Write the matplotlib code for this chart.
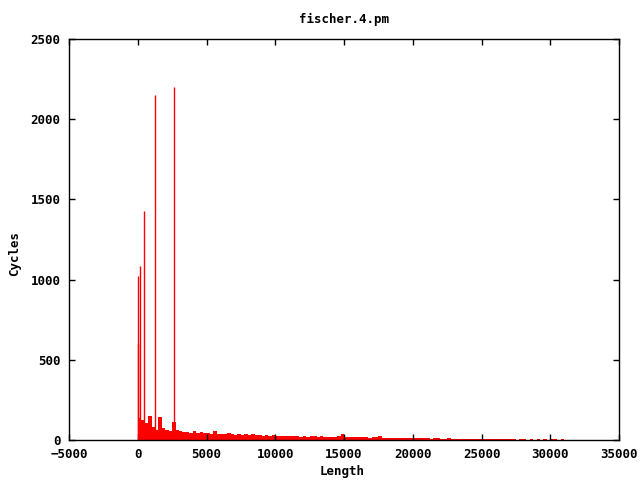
import matplotlib
matplotlib.use("Agg")
import matplotlib.pyplot as plt
import numpy as np

# tall isolated spikes (length, cycles)
spike_x = [0, 40, 180, 470, 1270, 2650]
spike_y = [1020, 600, 1085, 1430, 2150, 2200]

# dense background, one value per 250-wide length bin starting at 0
bin_step = 250
base_y = [
    140, 125, 105, 150, 80, 65, 145, 75, 60, 55, 110, 60,          # 0 - 2750
    55, 48, 52, 45, 58, 44, 50, 42, 46, 40, 57, 38,                # 3000 - 5750
    40, 35, 42, 36, 33, 38, 32, 35, 30, 36, 29, 32, 28, 33, 27, 30,  # 6000 - 9750
    26, 24, 28, 23, 25, 22, 26, 21, 24, 20, 23, 22,                # 10000 - 12750
    20, 22, 19, 21, 18, 20, 23, 36, 20, 18, 21, 17,                # 13000 - 15750
    19, 16, 18, 15, 20, 16, 22, 14, 15, 13, 14, 12, 13, 11, 12, 10,  # 16000 - 19750
    13, 11, 12, 10, 12, 9, 11, 10, 9, 8, 10, 8,                    # 20000 - 22750
    8, 7, 9, 7, 8, 6, 7, 6, 7, 6, 8, 6, 7, 5, 6, 4,                # 23000 - 26750
    4, 6, 0, 5, 4, 0, 5, 0, 4, 0, 5, 0, 8, 4, 0, 4,                # 27000 - 30750
]
base_x = np.arange(len(base_y)) * bin_step

title = "fischer.4.pm"
xlabel = "Length"
ylabel = "Cycles"

plt.rcParams['font.family'] = ['DejaVu Sans Mono']
plt.rcParams['font.weight'] = 'bold'
plt.rcParams['font.size'] = 9

fig = plt.figure(figsize=(6.4, 4.8), dpi=100)
ax = fig.add_axes([69/640, 1 - 440/480, 550/640, 401/480])

ax.bar(base_x, base_y, width=bin_step, align='edge', color='#ff0000',
       linewidth=0, antialiased=False)
ax.vlines(spike_x, 0, spike_y, color='#ff0000', linewidth=1)

ax.set_xlim(-5000, 35000)
ax.set_ylim(0, 2500)
ax.set_xticks(np.arange(-5000, 35001, 5000))
ax.set_yticks(np.arange(0, 2501, 500))
ax.tick_params(direction='in', length=4, width=1, top=True, right=True, pad=6)
for s in ax.spines.values():
    s.set_linewidth(1)

fig.text(344/640, 1 - 19/480, title, ha='center', va='center', fontweight='bold')
fig.text(342/640, 1 - 472/480, xlabel, ha='center', va='center', fontweight='bold')
fig.text(15/640, 1 - 253/480, ylabel, ha='center', va='center', rotation=90, fontweight='bold')

fig.savefig("out.png", dpi=100)
